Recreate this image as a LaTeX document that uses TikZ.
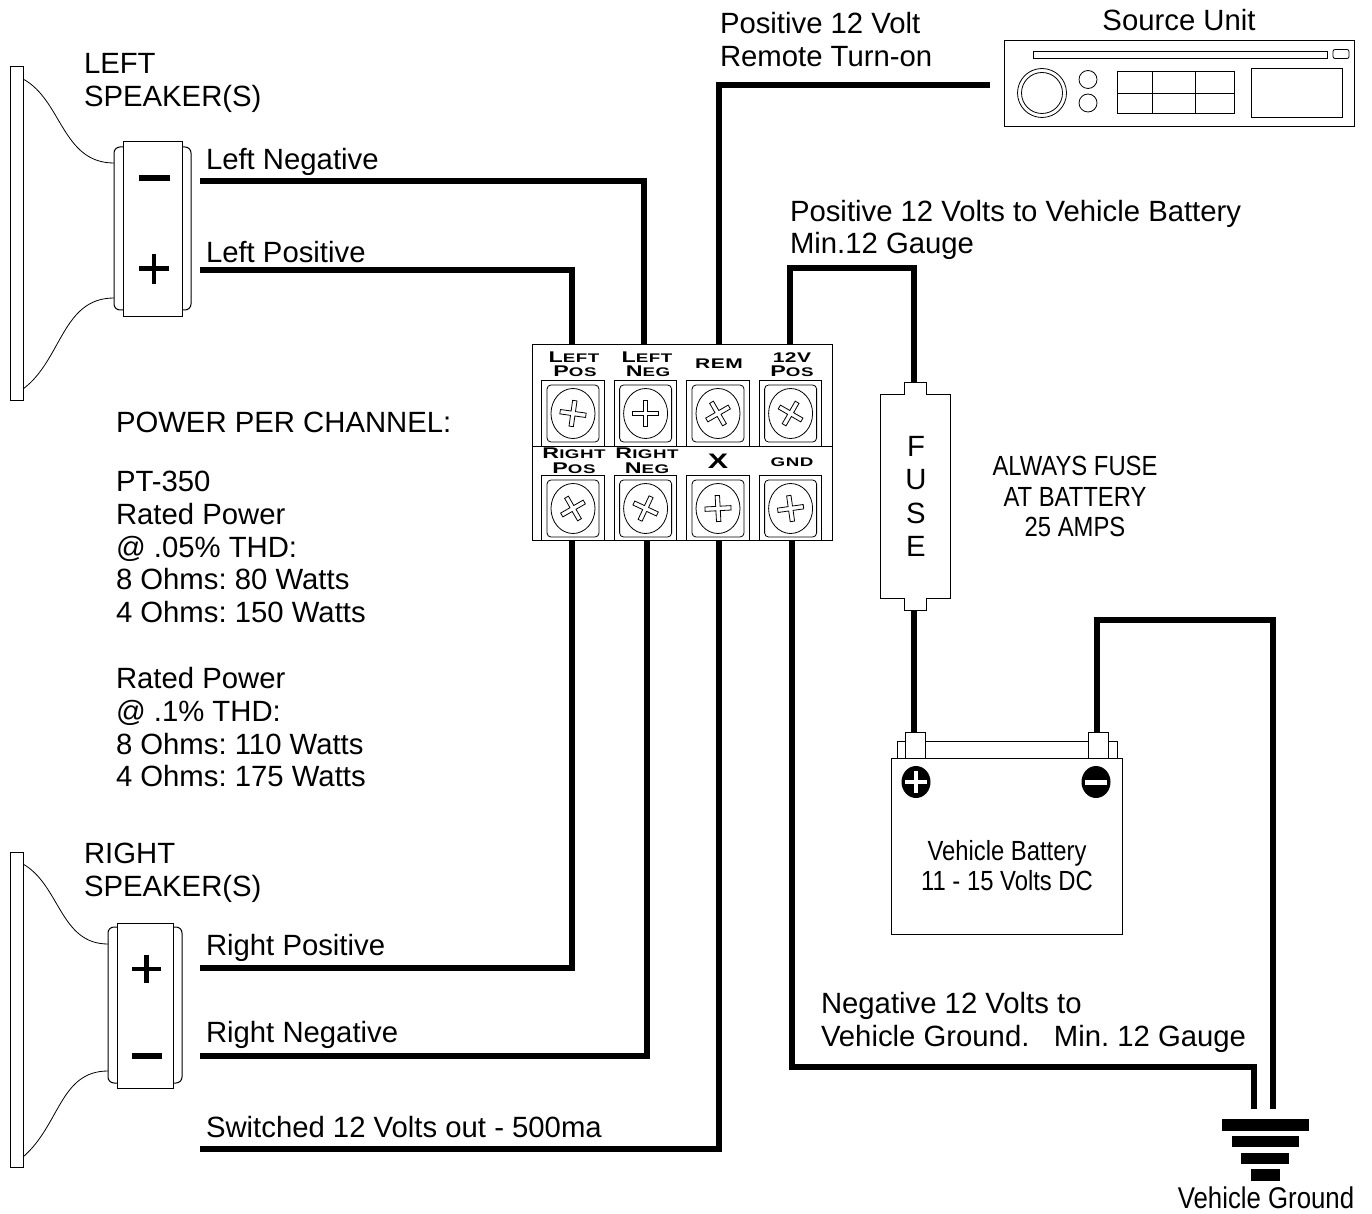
\documentclass[tikz,border=0pt]{standalone}
\usepackage{fontspec}
\setmainfont{Liberation Sans}
\frenchspacing
\newfontfamily\narrowf[FakeStretch=0.86]{Liberation Sans}
\newfontfamily\termf[FakeStretch=1.5,LetterSpace=4]{Liberation Sans}
\newfontfamily\termx[FakeStretch=1.45]{Liberation Sans}
\usetikzlibrary{backgrounds}
\newcommand{\capsm}[2]{{\fontsize{15.5}{14}\selectfont #1}{\fontsize{12.5}{14}\selectfont #2}}
\newcommand{\screwhead}[3]{%
  \draw[fineline,fill=white,rounded corners=4pt] (#1-26,#2-28.5) rectangle (#1+26,#2+28.5);
  \draw[fineline,fill=white] (#1,#2) ellipse [x radius=22pt,y radius=25pt];
  \begin{scope}[shift={(#1,#2)},rotate=#3]
    \draw[fineline,fill=white] (-13,-2.2) -- (-2.2,-2.2) -- (-2.2,-13) -- (2.2,-13) -- (2.2,-2.2) -- (13,-2.2) -- (13,2.2) -- (2.2,2.2) -- (2.2,13) -- (-2.2,13) -- (-2.2,2.2) -- (-13,2.2) -- cycle;
  \end{scope}}
\tikzset{
  thinline/.style={draw=black,line width=1pt},
  fineline/.style={draw=black,line width=0.8pt},
  wire/.style={draw=black,line width=6pt,line join=miter},
  lab/.style={inner sep=0pt,outer sep=0pt,anchor=base west,font=\fontsize{29.3}{32.7}\selectfont,align=left},
  narrowlab/.style={inner sep=0pt,outer sep=0pt,anchor=base,font=\narrowf\fontsize{27.7}{30.5}\selectfont,align=center},
  termlab/.style={inner sep=0pt,outer sep=0pt,anchor=base,font=\termf\bfseries},
  termbox/.style={thinline,fill=white,minimum width=62.7pt,minimum height=65.3pt,inner sep=0pt,outer sep=0pt},
  bar/.style={fill=black,draw=none,inner sep=0pt,outer sep=0pt},
  plate/.style={thinline,fill=white}
}
\begin{document}
\begin{tikzpicture}[x=1pt,y=-1pt]
\useasboundingbox (0,0) rectangle (1372,1214);

% ---- terminal block
\node[thinline,fill=white,minimum width=300pt,minimum height=196.5pt,inner sep=0pt,outer sep=0pt] (block) at (682,442.7) {};
\draw[thinline] (532,446) -- (832,446);
\node[termbox] (tLP) at (573,413.4) {};
\node[termbox] (tLN) at (645.6,413.4) {};
\node[termbox] (tREM) at (718,413.4) {};
\node[termbox] (tPOS) at (790.6,413.4) {};
\node[termbox] (tRP) at (573,508.2) {};
\node[termbox] (tRN) at (645.6,508.2) {};
\node[termbox] (tX) at (718,508.2) {};
\node[termbox] (tGND) at (790.6,508.2) {};
\screwhead{573}{413.5}{-8}
\screwhead{645.6}{413.5}{0}
\screwhead{718}{413.5}{30}
\screwhead{790.6}{413.5}{-30}
\screwhead{573}{508.5}{30}
\screwhead{645.6}{508.5}{-25}
\screwhead{718}{508.5}{3}
\screwhead{790.6}{508.5}{8}
\node[termlab] (lLP1) at (574,362) {\capsm{L}{EFT}};
\node[termlab] (lLP2) at (575,376) {\capsm{P}{OS}};
\node[termlab] (lLN1) at (647,362) {\capsm{L}{EFT}};
\node[termlab] (lLN2) at (648,376) {\capsm{N}{EG}};
\node[termlab] (lREM) at (719,368) {\fontsize{14}{14}\selectfont REM};
\node[termlab] (lPOS1) at (792,362) {\fontsize{14}{14}\selectfont 12V};
\node[termlab] (lPOS2) at (792,376) {\capsm{P}{OS}};
\node[termlab] (lRP1) at (574,458) {\capsm{R}{IGHT}};
\node[termlab] (lRP2) at (574,473) {\capsm{P}{OS}};
\node[termlab] (lRN1) at (647,458) {\capsm{R}{IGHT}};
\node[termlab] (lRN2) at (647,473) {\capsm{N}{EG}};
\node[termlab,font=\termx\bfseries\fontsize{21}{22}\selectfont] (lX) at (718,468) {X};
\node[termlab] (lGND) at (792,466) {\fontsize{12.5}{14}\selectfont GND};

% ---- left speaker
\draw[plate] (10,67) rectangle (23,400);
\draw[fineline] (23,79) .. controls (62,100) and (62,163) .. (114,163);
\draw[fineline] (23,389) .. controls (62,360) and (62,298) .. (114,298);
\draw[thinline,fill=white,rounded corners=6pt] (114,147) rectangle (191,310);
\node[thinline,fill=white,minimum width=59pt,minimum height=174pt,inner sep=0pt,outer sep=0pt] (lspk) at (152.5,229) {};
\fill (139,175.5) rectangle (170,181.5);
\fill (139,266.5) rectangle (169,271);
\fill (151.7,254.5) rectangle (156.3,284);

% ---- right speaker
\draw[plate] (10,852) rectangle (23,1167);
\draw[fineline] (23,864) .. controls (60,885) and (60,944) .. (108,944);
\draw[fineline] (23,1157) .. controls (60,1125) and (60,1071) .. (108,1071);
\draw[thinline,fill=white,rounded corners=6pt] (108,927) rectangle (182,1083);
\node[thinline,fill=white,minimum width=56pt,minimum height=165pt,inner sep=0pt,outer sep=0pt] (rspk) at (145,1005.5) {};
\fill (132,966.5) rectangle (161,971);
\fill (144.3,955) rectangle (148.8,983);
\fill (132,1053) rectangle (162,1059);

% ---- source unit
\node[thinline,fill=white,minimum width=350pt,minimum height=86pt,inner sep=0pt,outer sep=0pt] (src) at (1179,84) {};
\draw[fineline] (1033.5,51) rectangle (1327,58);
\draw[fineline,rounded corners=2pt] (1333,49.5) rectangle (1349,58.5);
\draw[fineline] (1042,93) circle [radius=24.5pt];
\draw[fineline] (1042,93) circle [radius=20.5pt];
\draw[fineline] (1088,79.5) circle [radius=9pt];
\draw[fineline] (1088,103) circle [radius=9pt];
\draw[thinline] (1117,71.5) rectangle (1234,114);
\draw[fineline] (1117,93.5) -- (1234,93.5) (1152.5,71.5) -- (1152.5,114) (1195.5,71.5) -- (1195.5,114);
\draw[fineline] (1251,68.5) rectangle (1342,117);

% ---- fuse
\draw[fineline,fill=white] (904,394) -- (904,382) -- (926,382) -- (926,394) -- (950,394) -- (950,598) -- (926,598) -- (926,610) -- (904,610) -- (904,598) -- (880,598) -- (880,394) -- cycle;
\node[inner sep=0pt,outer sep=0pt,minimum width=46pt,minimum height=228pt] (fuse) at (915,496) {};
\node[lab,anchor=base,align=center,font=\fontsize{29.3}{33.3}\selectfont] (fuseT) at (916,556.5) {F\\U\\S\\E};

% ---- battery
\draw[fineline,fill=white] (897.5,758) -- (897.5,741) -- (1117,741) -- (1117,758) -- cycle;
\node[thinline,fill=white,minimum width=20pt,minimum height=26pt,inner sep=0pt,outer sep=0pt] (bpos) at (915,745) {};
\node[thinline,fill=white,minimum width=20pt,minimum height=26pt,inner sep=0pt,outer sep=0pt] (bneg) at (1098,745) {};
\node[thinline,fill=white,minimum width=231pt,minimum height=176pt,inner sep=0pt,outer sep=0pt] (batt) at (1006.5,846) {};
\fill (916,782) ellipse [x radius=14.5pt,y radius=16pt];
\fill[white] (905,780) rectangle (927,784);
\fill[white] (914,771) rectangle (918,793);
\fill (1096,782) ellipse [x radius=14.5pt,y radius=16pt];
\fill[white] (1085,780) rectangle (1107,784.5);

% ---- ground
\node[bar,minimum width=87pt,minimum height=12pt] (g1) at (1265.5,1125) {};
\node[bar,minimum width=67pt,minimum height=11pt] (g2) at (1265.5,1141.5) {};
\node[bar,minimum width=48pt,minimum height=11pt] (g3) at (1265,1158.5) {};
\node[bar,minimum width=29pt,minimum height=12pt] (g4) at (1265.5,1175) {};

% ---- free wire ends
\coordinate (eLN) at (200,181);
\coordinate (eLP) at (200,270);
\coordinate (eRP) at (200,968);
\coordinate (eRN) at (200,1056);
\coordinate (eSW) at (200,1149);
\coordinate (eSRC) at (990,85);
\coordinate (eG1) at (1254,1108.5);
\coordinate (eG2) at (1273,1108.5);

% ---- wires (behind the parts)
\begin{scope}[on background layer]
\draw[wire] (eLN) -| ([xshift=-1.6pt]tLN.north);
\draw[wire] (eLP) -| ([xshift=-1.3pt]tLP.north);
\draw[wire] (eSRC) -| ([xshift=1pt]tREM.north);
\draw[wire] ([xshift=-.6pt]tPOS.north) |- (790,268) -| ([xshift=-1pt]fuse.north);
\draw[wire] ([xshift=-1pt]fuse.south) -- ([xshift=-1pt]bpos.north);
\draw[wire] (eRP) -| ([xshift=-1pt]tRP.south);
\draw[wire] (eRN) -| ([xshift=1.1pt]tRN.south);
\draw[wire] (eSW) -| ([xshift=1pt]tX.south);
\draw[wire] ([xshift=1.4pt]tGND.south) |- (1000,1067) -| (eG1);
\draw[wire] ([xshift=-1pt]bneg.north) |- (1180,620) -| (eG2);
\end{scope}

% ---- labels
\node[lab] (tSrc1) at (720,66.5) {Positive 12 Volt\\Remote Turn-on};
\node[lab,anchor=base] (tSrc) at (1179,31) {Source Unit};
\node[lab] (tLS) at (84,106.7) {LEFT\\SPEAKER(S)};
\node[lab] (tLN2) at (206,169.7) {Left Negative};
\node[lab] (tLP2) at (206,262.7) {Left Positive};
\node[lab] (tPow) at (116,432.5) {POWER PER CHANNEL:};
\node[lab] (tP1) at (116,622.5) {PT-350\\Rated Power\\@ .05\% THD:\\8 Ohms: 80 Watts\\4 Ohms: 150 Watts};
\node[lab] (tP2) at (116,786.7) {Rated Power\\@ .1\% THD:\\8 Ohms: 110 Watts\\4 Ohms: 175 Watts};
\node[lab] (tRS) at (84,896.5) {RIGHT\\SPEAKER(S)};
\node[lab] (tRP2) at (206,955.5) {Right Positive};
\node[lab] (tRN2) at (206,1042.5) {Right Negative};
\node[lab] (tSW) at (206,1137.5) {Switched 12 Volts out - 500ma};
\node[lab] (tPB) at (790,254) {Positive 12 Volts to Vehicle Battery\\Min.12 Gauge};
\node[lab] (tNG) at (821,1046) {Negative 12 Volts to\\Vehicle Ground.~~~Min. 12 Gauge};
\node[narrowlab] (tAF) at (1075,536.5) {ALWAYS FUSE\\AT BATTERY\\25 AMPS};
\node[narrowlab] (tVB) at (1007,890.7) {Vehicle Battery\\11 - 15 Volts DC};
\node[narrowlab,font=\narrowf\fontsize{30}{30}\selectfont] (tVG) at (1266,1208.5) {Vehicle Ground};
\end{tikzpicture}
\end{document}
